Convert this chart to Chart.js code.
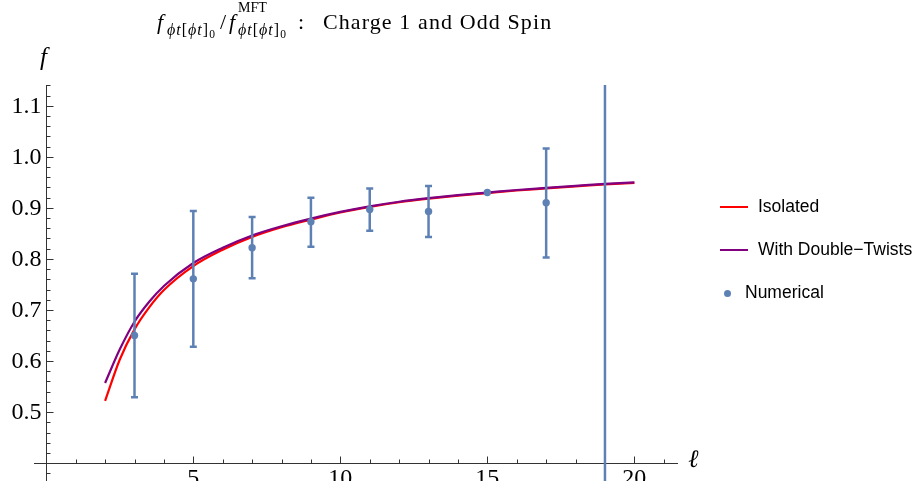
<!DOCTYPE html>
<html>
<head>
<meta charset="utf-8">
<script src="https://cdn.jsdelivr.net/npm/chart.js@4.4.0/dist/chart.umd.min.js"></script>
<style>
html, body { margin: 0; padding: 0; background: #fff; overflow: hidden; }
#wrap { position: relative; width: 915px; height: 505px; }
#chart { position: absolute; left: 0; top: 0; }
.serif { font-family: "Liberation Serif", "Times New Roman", serif; color: #000; }
.t { position: absolute; white-space: nowrap; line-height: 1; font-family: "Liberation Serif", "Times New Roman", serif; }
.t sub { font-size: 0.72em; position: relative; top: 3px; vertical-align: baseline; }
#ylab { position: absolute; left: 40px; top: 43px; font-size: 25px; font-style: italic; }
#xlab { position: absolute; left: 688px; top: 445px; font-size: 25px; font-style: italic; }
.leg { position: absolute; font-family: "Liberation Sans", Arial, sans-serif; font-size: 17.5px; color: #000; white-space: nowrap; }
.legline { position: absolute; width: 28px; height: 2px; }
.legdot { position: absolute; width: 7px; height: 7px; border-radius: 50%; background: #5e81b5; }
</style>
</head>
<body>
<div id="wrap">
<canvas id="chart" width="915" height="505"></canvas>
<!-- title pieces, placed by baseline -->
<span class="t" style="left:157px;top:11px;font-size:22px"><i>f</i></span>
<span class="t" style="left:167px;top:22px;font-size:16px;letter-spacing:1px"><i>ϕt</i>[<i>ϕt</i>]<sub>0</sub></span>
<span class="t" style="left:220px;top:11px;font-size:22px">/</span>
<span class="t" style="left:229px;top:11px;font-size:22px"><i>f</i></span>
<span class="t" style="left:238px;top:1px;font-size:14px">MFT</span>
<span class="t" style="left:238px;top:22px;font-size:16px;letter-spacing:1px"><i>ϕt</i>[<i>ϕt</i>]<sub>0</sub></span>
<span class="t" style="left:298px;top:11px;font-size:22px">:</span>
<span class="t" style="left:323px;top:11px;font-size:22px;letter-spacing:1.1px">Charge 1 and Odd Spin</span>
<div id="ylab" class="serif">f</div>
<div id="xlab" class="serif">ℓ</div>
<div class="legline" style="left:720px;top:206px;background:#ff0000"></div>
<div class="leg" style="left:758px;top:196px">Isolated</div>
<div class="legline" style="left:720px;top:249px;background:#800080"></div>
<div class="leg" style="left:758px;top:239px">With Double−Twists</div>
<div class="legdot" style="left:724px;top:290px"></div>
<div class="leg" style="left:745px;top:282px">Numerical</div>
</div>
<script>
// curves
const xCurve = [2, 2.5, 3, 3.5, 4, 5, 6, 7, 8, 9, 10, 11, 12, 13, 14, 15, 16, 17, 18, 19, 20]
const isolated = [0.522, 0.603, 0.662, 0.705, 0.739, 0.786, 0.818, 0.843, 0.862, 0.877, 0.891, 0.902, 0.911, 0.918, 0.924, 0.929, 0.934, 0.938, 0.942, 0.946, 0.949]
const doubleTwists = [0.557, 0.623, 0.677, 0.716, 0.747, 0.792, 0.822, 0.846, 0.864, 0.879, 0.892, 0.903, 0.912, 0.919, 0.925, 0.930, 0.935, 0.939, 0.943, 0.947, 0.950]

// numerical points with error bars
const xNum = [3, 5, 7, 9, 11, 13, 15, 17, 19]
const yNum = [0.650, 0.761, 0.822, 0.873, 0.897, 0.893, 0.930, 0.910, 1.6]
const errLow = [0.529, 0.628, 0.762, 0.824, 0.855, 0.843, null, 0.803, -1.2]
const errHigh = [0.771, 0.894, 0.882, 0.920, 0.938, 0.943, null, 1.016, 4.4]

// ticks
const xMajor = [5, 10, 15, 20]
const xMinor = [1, 2, 3, 4, 6, 7, 8, 9, 11, 12, 13, 14, 16, 17, 18, 19, 21]
const yMajor = [0.5, 0.6, 0.7, 0.8, 0.9, 1.0, 1.1]
const yLabels = ["0.5", "0.6", "0.7", "0.8", "0.9", "1.0", "1.1"]
const yMinor = [0.38, 0.40, 0.42, 0.44, 0.46, 0.48, 0.52, 0.54, 0.56, 0.58, 0.62, 0.64, 0.66, 0.68,
  0.72, 0.74, 0.76, 0.78, 0.82, 0.84, 0.86, 0.88, 0.92, 0.94, 0.96, 0.98, 1.02, 1.04, 1.06, 1.08, 1.12, 1.14]

const blue = "#5e81b5"
const serifFont = "'Liberation Serif', 'Times New Roman', serif"

let barData = []
let capData = []
xNum.forEach((x, i) => {
  if (errLow[i] == null) return
  barData.push({x: x, y: errLow[i]}, {x: x, y: errHigh[i]}, {x: x, y: null})
  capData.push({x: x, y: errLow[i]}, {x: x, y: errHigh[i]})
})

const isMajor = (list, v) => list.some(m => Math.abs(m - v) < 1e-6)

// small ticks on the inner side + y labels left of the axis, like the original
const axisTicks = {
  id: "axisTicks",
  beforeDatasetsDraw(chart) {
    const {ctx, scales: {x, y}} = chart
    const x0 = Math.round(x.getPixelForValue(0)) + 0.5
    const y0 = Math.round(y.getPixelForValue(0.4)) + 0.5
    ctx.save()
    ctx.strokeStyle = "#333"
    ctx.lineWidth = 1
    ctx.beginPath()
    y.ticks.forEach(t => {
      const py = Math.round(y.getPixelForValue(t.value)) + 0.5
      const len = isMajor(yMajor, t.value) ? 7 : 4
      ctx.moveTo(x0, py)
      ctx.lineTo(x0 + len, py)
    })
    x.ticks.forEach(t => {
      const px = Math.round(x.getPixelForValue(t.value)) + 0.5
      const len = isMajor(xMajor, t.value) ? 7 : 4
      ctx.moveTo(px, y0)
      ctx.lineTo(px, y0 - len)
    })
    ctx.stroke()

    ctx.fillStyle = "#000"
    ctx.font = "24px " + serifFont
    ctx.textAlign = "right"
    ctx.textBaseline = "middle"
    yMajor.forEach((v, i) => {
      ctx.fillText(yLabels[i], x0 - 5, y.getPixelForValue(v) + 1)
    })
    ctx.restore()
  }
}

// axes sit on the data, so they should not take room from the plot
const noRoom = s => {
  if (s.isHorizontal()) s.height = 0
  else s.width = 0
  s.paddingLeft = 0
  s.paddingRight = 0
  s.paddingTop = 0
  s.paddingBottom = 0
}

new Chart(document.getElementById("chart"), {
  type: "line",
  data: {
    datasets: [
      {
        label: "Numerical",
        type: "scatter",
        data: xNum.map((x, i) => ({x: x, y: yNum[i]})),
        backgroundColor: blue,
        borderColor: blue,
        pointRadius: 3.7,
        borderWidth: 0,
        order: 0
      },
      {
        label: "caps",
        type: "scatter",
        data: capData,
        pointStyle: "line",
        pointRadius: 3.5,
        borderColor: blue,
        borderWidth: 2.5,
        order: 1
      },
      {
        label: "bars",
        data: barData,
        borderColor: blue,
        borderWidth: 2.5,
        pointRadius: 0,
        spanGaps: false,
        order: 2
      },
      {
        label: "With Double-Twists",
        data: xCurve.map((x, i) => ({x: x, y: doubleTwists[i]})),
        borderColor: "#800080",
        borderWidth: 2.2,
        pointRadius: 0,
        cubicInterpolationMode: "monotone",
        order: 3
      },
      {
        label: "Isolated",
        data: xCurve.map((x, i) => ({x: x, y: isolated[i]})),
        borderColor: "#ff0000",
        borderWidth: 2.2,
        pointRadius: 0,
        cubicInterpolationMode: "monotone",
        order: 4
      }
    ]
  },
  options: {
    responsive: false,
    animation: false,
    layout: {padding: {left: 34, right: 238, top: 85, bottom: 2}},
    plugins: {legend: {display: false}, tooltip: {enabled: false}, title: {display: false}},
    scales: {
      x: {
        type: "linear",
        min: -0.418,
        max: 21.45,
        position: {y: 0.4},
        afterFit: noRoom,
        afterBuildTicks: s => { s.ticks = xMajor.concat(xMinor).map(v => ({value: v})) },
        grid: {drawOnChartArea: false, drawTicks: false},
        border: {display: true, color: "#333", width: 1},
        ticks: {
          font: {family: serifFont, size: 24},
          color: "#000",
          padding: 1,
          maxRotation: 0,
          autoSkip: false,
          callback: v => isMajor(xMajor, v) ? String(v) : ""
        }
      },
      y: {
        type: "linear",
        min: 0.3308,
        max: 1.1406,
        position: {x: 0},
        afterFit: noRoom,
        afterBuildTicks: s => { s.ticks = yMajor.concat(yMinor).map(v => ({value: v})) },
        grid: {drawOnChartArea: false, drawTicks: false},
        border: {display: true, color: "#333", width: 1},
        ticks: {display: false}
      }
    }
  },
  plugins: [axisTicks]
})
</script>
</body>
</html>
